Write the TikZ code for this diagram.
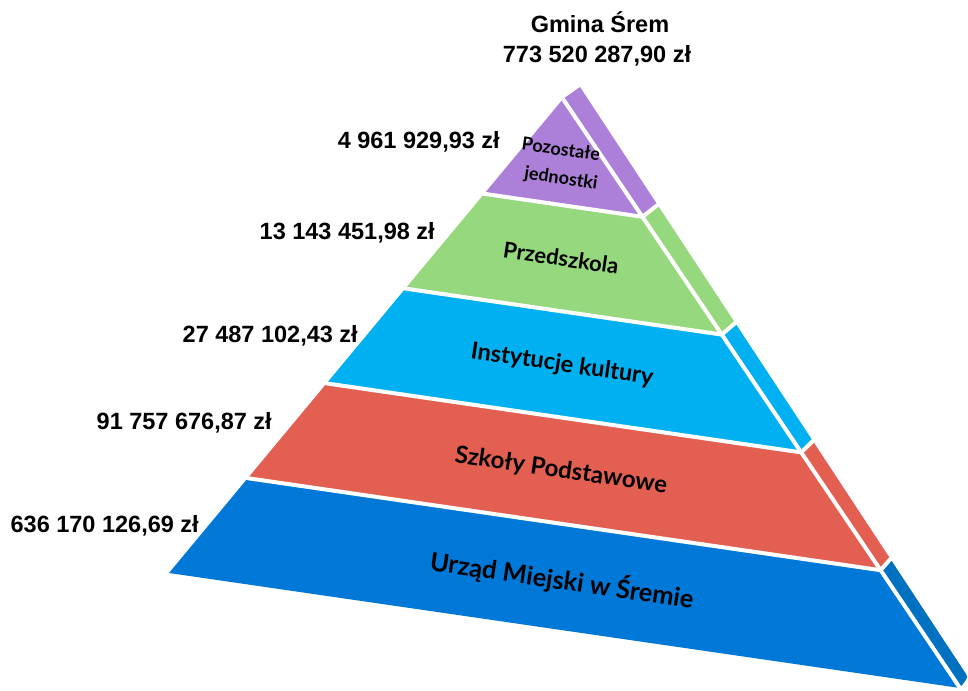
\documentclass[tikz,border=0pt]{standalone}
\usepackage{fontspec}
\setmainfont{Liberation Sans}
\newfontfamily\labfont{Lato}
\usetikzlibrary{calc}
\definecolor{cpurple}{HTML}{AC80D8}
\definecolor{cgreen}{HTML}{96D87D}
\definecolor{ccyan}{HTML}{00B0F0}
\definecolor{cred}{HTML}{E35F51}
\definecolor{cblue}{HTML}{0078D7}
\definecolor{cblueside}{HTML}{0070C0}
\begin{document}
\begin{tikzpicture}[x=1pt,y=-1pt,
  amount/.style={font=\bfseries\fontsize{23.5}{28}\selectfont, inner sep=0pt, anchor=base east},
  toplabel/.style={font=\bfseries\fontsize{23.5}{28}\selectfont, inner sep=0pt, anchor=base},
  layerlabel/.style={font=\labfont\bfseries\fontsize{#1}{#1}\selectfont, rotate=-8.3, inner sep=0pt, anchor=center},
  gap/.style={white, line width=4pt, line cap=round},
  gapedge/.style={white, line width=4pt, line cap=butt}]
\useasboundingbox (0,0) rectangle (968,690);
\coordinate (A) at (563,99);
\coordinate (L) at (169,573);
\coordinate (R) at (960,688);
\coordinate (Bt) at (580,87);
\coordinate (Bb) at (968,677);
\foreach \i in {0,...,5} {
  \pgfmathsetmacro\tt{\i/5}
  \coordinate (L\i) at ($(A)!\tt!(L)$);
  \coordinate (R\i) at ($(A)!\tt!(R)$);
  \coordinate (B\i) at ($(Bt)!\tt!(Bb)$);
}
% front faces
\fill[cpurple] (L0) -- (L1) -- (R1) -- cycle;
\fill[cgreen] (L1) -- (L2) -- (R2) -- (R1) -- cycle;
\fill[ccyan] (L2) -- (L3) -- (R3) -- (R2) -- cycle;
\fill[cred] (L3) -- (L4) -- (R4) -- (R3) -- cycle;
\fill[cblue] (L4) -- (L5) -- (R5) -- (R4) -- cycle;
% side faces
\fill[cpurple] (R0) -- (R1) -- (B1) -- (B0) -- cycle;
\fill[cgreen] (R1) -- (R2) -- (B2) -- (B1) -- cycle;
\fill[ccyan] (R2) -- (R3) -- (B3) -- (B2) -- cycle;
\fill[cred] (R3) -- (R4) -- (B4) -- (B3) -- cycle;
\fill[cblueside, rounded corners=3pt] (R4) -- (R5) -- (B5) -- (B4) -- cycle;
% white gaps
\foreach \i in {1,...,4} {
  \draw[gap] (L\i) -- (R\i);
  \draw[gap] (R\i) -- (B\i);
}
\draw[gapedge] (A) -- (R);
% labels in layers
\node[layerlabel=18] (poz1) at (561,149) {Pozostałe};
\node[layerlabel=18] (poz2) at (561,179) {jednostki};
\node[layerlabel=22] (przed) at (561,258) {Przedszkola};
\node[layerlabel=23.5] (inst) at (562,365) {Instytucje kultury};
\node[layerlabel=24] (szk) at (561,471) {Szkoły Podstawowe};
\node[layerlabel=25.5] (urz) at (562,580) {Urząd Miejski w Śremie};
% amounts
\node[toplabel] (gmina) at (600,33) {Gmina Śrem};
\node[toplabel] (total) at (597,63) {773 520 287,90 zł};
\node[amount] (a1) at (500,148) {4 961 929,93 zł};
\node[amount] (a2) at (435,239) {13 143 451,98 zł};
\node[amount] (a3) at (358,342) {27 487 102,43 zł};
\node[amount] (a4) at (272,429) {91 757 676,87 zł};
\node[amount] (a5) at (199,532) {636 170 126,69 zł};
\end{tikzpicture}
\end{document}
